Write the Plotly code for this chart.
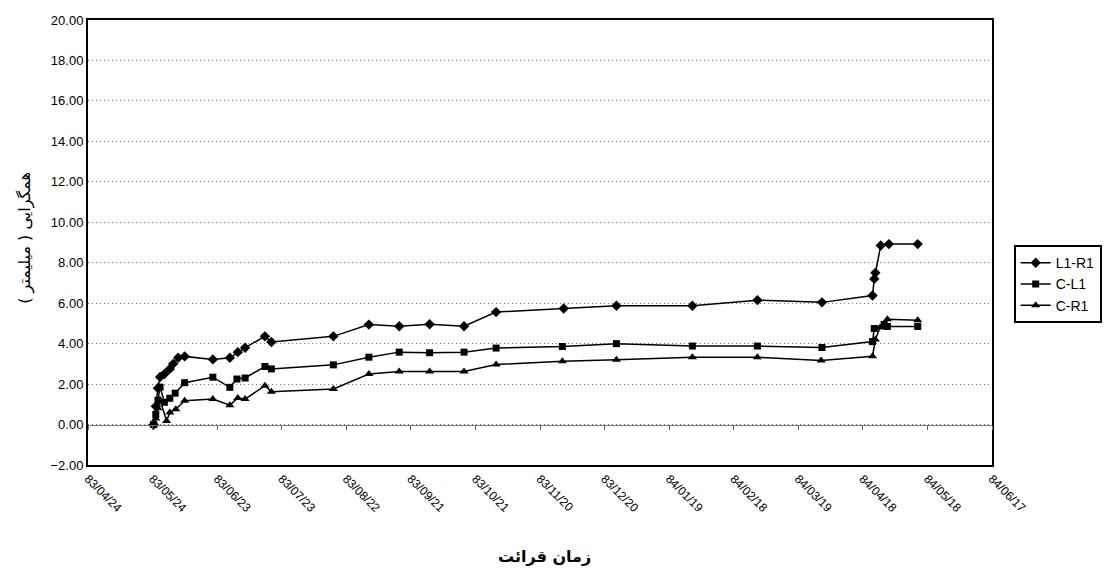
import plotly.graph_objects as go

# x values: days elapsed since 83/04/24 (Persian calendar)
tick_days = [0, 30, 60, 90, 120, 150, 180, 210, 240, 270, 300, 330, 360, 390, 420]
tick_labels = ["83/04/24", "83/05/24", "83/06/23", "83/07/23", "83/08/22", "83/09/21",
               "83/10/21", "83/11/20", "83/12/20", "84/01/19", "84/02/18", "84/03/19",
               "84/04/18", "84/05/18", "84/06/17"]

l1r1_days = [30.5, 31.5, 32.5, 33.5, 35.5, 38, 39.6, 41.9, 44.9, 58, 65.9, 69.6, 73, 82.2, 85.2,
             114, 130.5, 144.6, 158.7, 174.7, 189.6, 221, 245.5, 280.8, 311, 341, 364.5, 365.3,
             365.8, 368.3, 372.1, 385.5]
l1r1_vals = [0, 0.9, 1.8, 2.35, 2.5, 2.75, 3.0, 3.3, 3.37, 3.22, 3.3, 3.58, 3.8, 4.36, 4.08,
             4.36, 4.94, 4.86, 4.96, 4.86, 5.56, 5.74, 5.87, 5.87, 6.15, 6.04, 6.38, 7.2,
             7.5, 8.85, 8.92, 8.92]

cl1_days = [30.5, 31.5, 32.5, 33.5, 35.5, 38, 40.5, 44.9, 58, 65.9, 69.2, 73, 82.2, 85.2, 114,
            130.5, 144.6, 158.7, 174.7, 189.6, 220.4, 245.5, 280.8, 311, 341, 364.5, 365.3,
            369.9, 371.4, 385.5]
cl1_vals = [0, 0.5, 1.2, 1.85, 1.1, 1.3, 1.55, 2.07, 2.34, 1.84, 2.25, 2.3, 2.87, 2.75, 2.95,
            3.33, 3.58, 3.55, 3.58, 3.78, 3.86, 4.0, 3.88, 3.88, 3.81, 4.1, 4.75,
            4.95, 4.85, 4.85]

cr1_days = [30.5, 31.5, 32.5, 33.5, 36.5, 38, 40.8, 44.9, 58, 65.9, 69.6, 73, 82.2, 85.2, 114,
            130.5, 144.6, 158.7, 174.7, 189.6, 220.4, 245.5, 280.8, 311, 340.6, 364.5, 365.8,
            368, 371.4, 385.5]
cr1_vals = [0, 0.3, 0.8, 1.2, 0.18, 0.6, 0.76, 1.18, 1.26, 0.96, 1.31, 1.26, 1.92, 1.62, 1.76,
            2.5, 2.62, 2.62, 2.62, 2.97, 3.13, 3.2, 3.33, 3.33, 3.17, 3.38, 4.2,
            4.8, 5.2, 5.15]

y_ticks = [-2, 0, 2, 4, 6, 8, 10, 12, 14, 16, 18, 20]

fig = go.Figure()
series = [("L1-R1", l1r1_days, l1r1_vals, "diamond", 8),
          ("C-L1", cl1_days, cl1_vals, "square", 7),
          ("C-R1", cr1_days, cr1_vals, "triangle-up", 8)]
for name, xs, ys, sym, sz in series:
    fig.add_trace(go.Scatter(x=xs, y=ys, name=name, mode="lines+markers",
                             line=dict(color="black", width=1.5),
                             marker=dict(symbol=sym, size=sz, color="black")))

# invisible trace to anchor the zero-line axis
fig.add_trace(go.Scatter(x=[0], y=[0], xaxis="x2", yaxis="y", mode="markers",
                         marker=dict(opacity=0), showlegend=False, hoverinfo="skip"))

fig.update_layout(
    width=1114, height=575,
    margin=dict(l=88, r=108, t=20, b=110),
    paper_bgcolor="white", plot_bgcolor="white",
    font=dict(family="Liberation Sans, Arial", size=12, color="black"),
    xaxis=dict(range=[0, 420], tickmode="array", tickvals=tick_days, ticktext=tick_labels,
               tickangle=45, showgrid=False, zeroline=False, ticks="", automargin=False,
               showline=True, linecolor="black", linewidth=2, mirror=True,
               tickfont=dict(size=12)),
    xaxis2=dict(range=[0, 420], overlaying="x", anchor="free", position=2 / 22,
                tickmode="array", tickvals=tick_days, showticklabels=False,
                ticks="outside", ticklen=4, tickcolor="#666", showgrid=False,
                zeroline=False, showline=True, linecolor="#777", linewidth=1,
                automargin=False),
    yaxis=dict(range=[-2, 20], tickmode="array", tickvals=y_ticks, tickformat=".2f",
               showgrid=True, gridcolor="#777", griddash="1px,3px", gridwidth=1,
               zeroline=False, showline=True, linecolor="black", linewidth=2, mirror=True,
               ticks="", automargin=False, tickfont=dict(size=13)),
    legend=dict(x=1.024, y=0.494, xanchor="left", yanchor="top",
                bordercolor="black", borderwidth=2, bgcolor="white",
                font=dict(size=14)),
    annotations=[
        dict(text="<b>زمان قرائت</b>", xref="paper", yref="paper", x=0.505, y=-0.205,
             xanchor="center", yanchor="middle", showarrow=False,
             font=dict(family="DejaVu Serif, DejaVu Sans", size=16, color="black")),
        dict(text="همگرایی ( میلیمتر )", xref="paper", yref="paper",
             x=-0.07, y=0.51, xanchor="center", yanchor="middle", showarrow=False,
             textangle=-90,
             font=dict(family="DejaVu Sans", size=16, color="black")),
    ],
)

fig.write_html("out.html",
               config={"displayModeBar": False},
               post_script="document.body.style.margin='0';document.body.style.padding='0';")
